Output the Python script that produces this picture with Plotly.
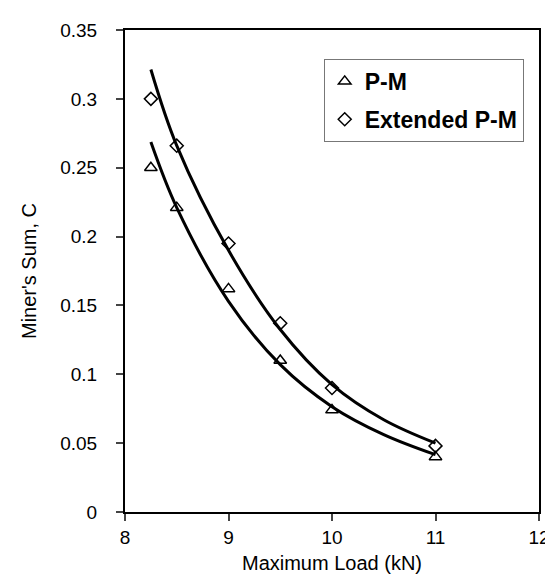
import plotly.graph_objects as go

# Data points
load_kn = [8.25, 8.5, 9.0, 9.5, 10.0, 11.0]
pm_sum = [0.25, 0.221, 0.162, 0.110, 0.074, 0.040]
ext_pm_sum = [0.30, 0.266, 0.195, 0.137, 0.090, 0.048]

# Trend curves
curve_x = [8.25, 8.5, 9.0, 9.5, 10.0, 10.5, 11.0]
pm_curve = [0.2686, 0.221, 0.153, 0.107, 0.0765, 0.0562, 0.0416]
ext_curve = [0.3213, 0.266, 0.190, 0.1325, 0.0925, 0.067, 0.050]

x_ticks = [8, 9, 10, 11, 12]
y_ticks = [0, 0.05, 0.1, 0.15, 0.2, 0.25, 0.3, 0.35]
y_ticktext = ["0", "0.05", "0.1", "0.15", "0.2", "0.25", "0.3", "0.35"]

FONT = "Liberation Sans, Arial, sans-serif"

fig = go.Figure()
fig.add_trace(go.Scatter(x=curve_x, y=pm_curve, mode="lines", line=dict(color="black", width=3, shape="spline"),
                         showlegend=False, hoverinfo="skip"))
fig.add_trace(go.Scatter(x=curve_x, y=ext_curve, mode="lines", line=dict(color="black", width=3, shape="spline"),
                         showlegend=False, hoverinfo="skip"))
fig.add_trace(go.Scatter(x=load_kn, y=pm_sum, mode="markers", name="P-M", legendgroup="a",
                         marker=dict(symbol="triangle-up-open", size=11, color="black", line=dict(width=1.5, color="black"))))
fig.add_trace(go.Scatter(x=load_kn, y=ext_pm_sum, mode="markers", name="Extended P-M", legendgroup="b",
                         marker=dict(symbol="diamond-open", size=10, color="black", line=dict(width=1.5, color="black"))))

fig.update_layout(
    width=553, height=580,
    margin=dict(l=117, r=22, t=22, b=76),
    paper_bgcolor="white", plot_bgcolor="white",
    font=dict(family=FONT, size=19, color="black"),
    showlegend=True,
    legend=dict(x=0.48, y=0.94, xanchor="left", yanchor="top",
                bordercolor="#777777", borderwidth=1, bgcolor="white",
                font=dict(family=FONT, size=23, color="black", weight="bold"),
                traceorder="grouped", tracegroupgap=5),
    xaxis=dict(range=[8, 12], tickvals=x_ticks, ticks="outside", ticklen=7, tickwidth=1.5,
               showline=True, linewidth=2, linecolor="black", mirror=True, showgrid=False, zeroline=False,
               title=dict(text="Maximum Load (kN)", font=dict(size=20), standoff=9),
               tickfont=dict(size=19), automargin=False),
    yaxis=dict(range=[0, 0.35], tickvals=y_ticks, ticktext=y_ticktext, ticks="outside", ticklen=7, tickwidth=1.5,
               showline=True, linewidth=2, linecolor="black", mirror=True, showgrid=False, zeroline=False,
               title=dict(text="Miner's Sum, C", font=dict(size=20), standoff=18),
               tickfont=dict(size=19), ticklabelstandoff=15, automargin=False),
)

fig.write_html("out.html")
